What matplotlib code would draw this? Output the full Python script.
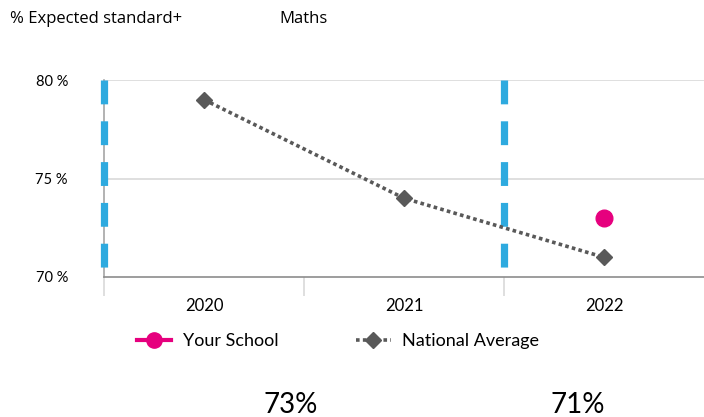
import matplotlib
matplotlib.use("Agg")
import matplotlib.pyplot as plt
from matplotlib.lines import Line2D

years = ["2020", "2021", "2022"]
national = [79, 74, 71]
school_years = ["2022"]
school = [73]
y_ticks = [70, 75, 80]
y_tick_labels = ["70 %", "75 %", "80 %"]
summary_labels = ["73%", "71%"]
divider_positions = [-0.5, 1.5]

plt.rcParams['font.family'] = ['Lato', 'DejaVu Sans']

W, H = 704, 417
fig = plt.figure(figsize=(W / 100, H / 100), dpi=100)
ax = fig.add_axes([104 / W, 1 - 277 / H, 600 / W, 197 / H])

xi = list(range(len(years)))
ax.set_xlim(-0.5, 2.5)
ax.set_ylim(70, 80)

# grid
for yv in y_ticks[1:]:
    ax.axhline(yv, color="#d9d9d9", lw=1.2, zorder=0)

# blue divider dashes
for xv in divider_positions:
    ax.plot([xv, xv], [80, 70], color="#2EAADF", lw=5.2, solid_capstyle="butt",
            dash_capstyle="butt", linestyle=(0, (3.3, 2.35)), zorder=3, clip_on=False)

# national line
ax.plot(xi, national, color="#595959", lw=2.6, linestyle=(0, (1.0, 0.9)),
        dash_capstyle="butt", marker="D", markersize=8.5, zorder=4)
# school
sx = [years.index(y) for y in school_years]
ax.plot(sx, school, color="#E6007E", lw=0, marker="o", markersize=12, zorder=5)

ax.set_yticks(y_ticks)
ax.set_yticklabels(y_tick_labels, fontsize=10.5)
ax.tick_params(axis="y", length=0, pad=26)
for t in ax.get_yticklabels():
    t.set_horizontalalignment("right")

ax.set_xticks(xi)
ax.set_xticklabels(years, fontsize=12)
ax.set_xticks([-0.5, 0.5, 1.5], minor=True)
ax.tick_params(axis="x", which="major", length=0, pad=15)
ax.tick_params(axis="x", which="minor", length=14, width=1.2, color="#d9d9d9", direction="out")

for s in ["top", "right"]:
    ax.spines[s].set_visible(False)
ax.spines["left"].set_color("#a6a6a6")
ax.spines["left"].set_linewidth(1.2)
ax.spines["bottom"].set_color("#8c8c8c")
ax.spines["bottom"].set_linewidth(1.2)

handles = [
    Line2D([], [], color="#E6007E", lw=3, marker="o", markersize=11),
    Line2D([], [], color="#595959", lw=2.6, linestyle=(0, (1.0, 0.9)), marker="D", markersize=8),
]
fig.legend(handles, ["Your School", "National Average"], loc="center left",
           bbox_to_anchor=(137 / W, 1 - 341 / H), ncol=2, frameon=False,
           borderpad=0, borderaxespad=0,
           fontsize=13, handlelength=1.9, columnspacing=4.3, handletextpad=0.65)

fig.text(10 / W, 1 - 19 / H, "% Expected standard+", fontsize=12, va="center", ha="left",
         family=["Open Sans", "DejaVu Sans"])
fig.text(279 / W, 1 - 19 / H, "Maths", fontsize=12, va="center", ha="left",
         family=["Open Sans", "DejaVu Sans"])

fig.text(291 / W, 1 - 405 / H, summary_labels[0], fontsize=20, va="center", ha="center")
fig.text(578 / W, 1 - 405 / H, summary_labels[1], fontsize=20, va="center", ha="center")

fig.savefig("out.png", dpi=100)
